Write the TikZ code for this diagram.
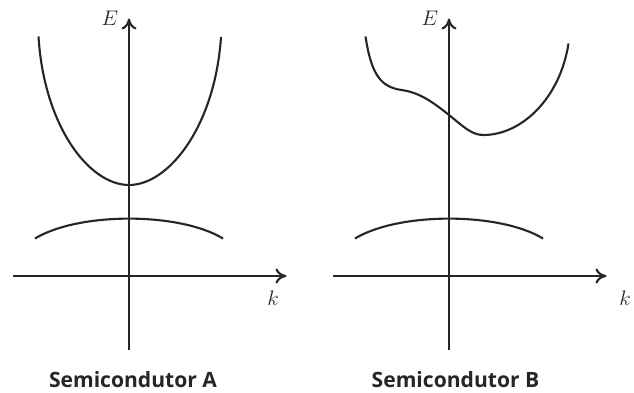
\documentclass[tikz,border=0pt]{standalone}
\usepackage{amsmath}
\usepackage{fontspec}
\setsansfont{Open Sans}
\usetikzlibrary{arrows.meta}
\begin{document}
\begin{tikzpicture}[black!85, line width=1.2pt,
        >={To[length=2.2mm,width=3mm]},
        axis/.style={->, line width=1.2pt},
        band/.style={line width=1.2pt},
        lbl/.style={font=\sffamily\bfseries\fontsize{12}{14}\selectfont, anchor=base}]
    \useasboundingbox (-2.58,-2.34) rectangle (10.1,5.52);
    % axes, valence band and captions of both panels
    \foreach \ox/\nm/\kx/\lx in {0/A/2.88/0.08, 6.4/B/3.52/0.13}
    {
        \draw[axis] ({\ox-2.32},0) -- ({\ox+3.15},0);
        \draw[axis] (\ox,-1.48) -- (\ox,5.15);
        \node[font=\fontsize{13}{15}\selectfont] (E\nm) at ({\ox-0.38},5.15) {$E$};
        \node[font=\fontsize{13}{15}\selectfont] (k\nm) at ({\ox+\kx},-0.45) {$k$};
        \draw[band] ({\ox-1.88},0.75) .. controls ({\ox-1},1.28) and ({\ox+1},1.28) .. ({\ox+1.88},0.75);
        \node[lbl] (cap\nm) at ({\ox+\lx},-2.24) {Semicondutor \nm};
    }
    % conduction band A
    \draw[band] (-1.81,4.79) .. controls (-1.7,3.0) and (-0.8,1.82) .. (0,1.82)
                .. controls (0.8,1.82) and (1.72,3.0) .. (1.84,4.78);
    % conduction band B
    \draw[band, xshift=6.4cm] (-1.67,4.79) .. controls (-1.55,4.0) and (-1.35,3.78) .. (-0.95,3.72)
                .. controls (-0.6,3.67) and (-0.35,3.5) .. (0,3.22)
                .. controls (0.3,2.98) and (0.45,2.82) .. (0.69,2.82)
                .. controls (1.45,2.82) and (2.22,3.55) .. (2.39,4.65);
\end{tikzpicture}
\end{document}
